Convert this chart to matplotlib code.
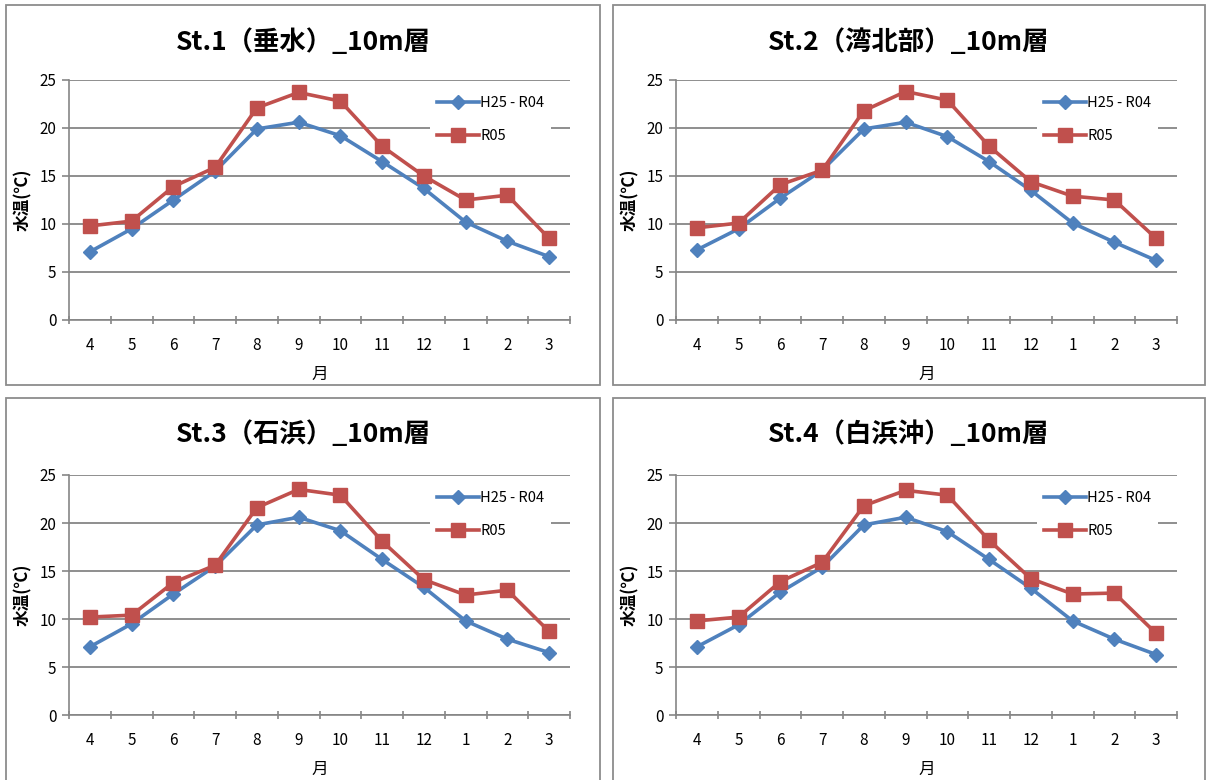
import matplotlib.pyplot as plt
from matplotlib.patches import Rectangle

plt.rcParams['font.family'] = ['Noto Sans CJK JP', 'DejaVu Sans']

months = ["4", "5", "6", "7", "8", "9", "10", "11", "12", "1", "2", "3"]
series_names = ["H25 - R04", "R05"]

st1_title = "St.1（垂水）_10m層"
st1_avg = [7.1, 9.5, 12.5, 15.5, 19.9, 20.6, 19.2, 16.5, 13.7, 10.2, 8.2, 6.6]
st1_r05 = [9.8, 10.3, 13.9, 15.9, 22.1, 23.7, 22.8, 18.1, 15.0, 12.5, 13.0, 8.5]

st2_title = "St.2（湾北部）_10m層"
st2_avg = [7.3, 9.5, 12.7, 15.6, 19.9, 20.6, 19.1, 16.5, 13.5, 10.1, 8.1, 6.2]
st2_r05 = [9.6, 10.1, 14.1, 15.6, 21.8, 23.8, 22.9, 18.1, 14.4, 12.9, 12.5, 8.5]

st3_title = "St.3（石浜）_10m層"
st3_avg = [7.1, 9.5, 12.6, 15.5, 19.8, 20.6, 19.2, 16.2, 13.3, 9.8, 7.9, 6.5]
st3_r05 = [10.2, 10.4, 13.8, 15.6, 21.6, 23.5, 22.9, 18.1, 14.1, 12.5, 13.0, 8.7]

st4_title = "St.4（白浜沖）_10m層"
st4_avg = [7.1, 9.4, 12.8, 15.4, 19.8, 20.6, 19.1, 16.2, 13.2, 9.8, 7.9, 6.3]
st4_r05 = [9.8, 10.2, 13.9, 15.9, 21.8, 23.4, 22.9, 18.2, 14.2, 12.6, 12.7, 8.5]

BLUE = "#4F81BD"
RED = "#C0504D"
GRID = "#868686"

W, H = 1206, 780
fig = plt.figure(figsize=(W / 100, H / 100), dpi=100)


def px_box(x0, y0, x1, y1):
    # pixel box (top-left origin) -> figure fraction [l, b, w, h]
    return [x0 / W, 1 - y1 / H, (x1 - x0) / W, (y1 - y0) / H]


def draw_panel(frame, plot, title, avg, r05):
    fx0, fy0, fx1, fy1 = frame
    fig.patches.append(Rectangle((fx0 / W, 1 - fy1 / H), (fx1 - fx0) / W, (fy1 - fy0) / H,
                                 transform=fig.transFigure, fill=False,
                                 edgecolor="#8c8c8c", linewidth=1.3))
    fig.text((fx0 + fx1) / 2 / W, 1 - (fy0 + 37) / H, title, ha="center", va="center",
             fontsize=19, fontweight="bold")

    ax = fig.add_axes(px_box(*plot))
    x = list(range(len(months)))
    ax.plot(x, avg, color=BLUE, lw=2.6, marker="D", ms=7, label=series_names[0], zorder=3)
    ax.plot(x, r05, color=RED, lw=2.6, marker="s", ms=9.5, label=series_names[1], zorder=4)

    ax.set_xlim(-0.5, len(months) - 0.5)
    ax.set_ylim(0, 25)
    ax.set_yticks([0, 5, 10, 15, 20, 25])
    ax.set_xticks(x)
    ax.set_xticklabels(months)
    ax.set_xticks([i - 0.5 for i in range(len(months) + 1)], minor=True)
    ax.tick_params(axis="x", which="major", length=0, pad=12, labelsize=11)
    ax.tick_params(axis="x", which="minor", length=6, color=GRID, width=1.2, direction="inout")
    ax.tick_params(axis="y", length=5, color=GRID, width=1.2, labelsize=11, pad=4)
    ax.grid(axis="y", color=GRID, lw=1.3)
    ax.set_axisbelow(True)
    for s in ["top", "right"]:
        ax.spines[s].set_visible(False)
    for s in ["left", "bottom"]:
        ax.spines[s].set_color(GRID)
        ax.spines[s].set_linewidth(1.2)

    ax.set_xlabel("月", fontsize=12, labelpad=9)
    ax.set_ylabel("水温(℃)", fontsize=12, fontweight="bold", labelpad=5)

    leg = ax.legend(loc="upper left", bbox_to_anchor=(0.72, 0.962), fontsize=10.5,
                    handlelength=2.9, handletextpad=0.05, labelspacing=1.25,
                    frameon=True, facecolor="white", edgecolor="none", framealpha=1,
                    borderpad=0.5, borderaxespad=0)
    leg.get_frame().set_boxstyle("square", pad=0)
    return ax


draw_panel((6, 5, 600, 385), (69, 80, 570, 320), st1_title, st1_avg, st1_r05)
draw_panel((613, 5, 1205, 385), (676, 80, 1177, 320), st2_title, st2_avg, st2_r05)
draw_panel((6, 398, 600, 790), (69, 475, 570, 715), st3_title, st3_avg, st3_r05)
draw_panel((613, 398, 1205, 790), (676, 475, 1177, 715), st4_title, st4_avg, st4_r05)

fig.savefig("out.png", dpi=100)
